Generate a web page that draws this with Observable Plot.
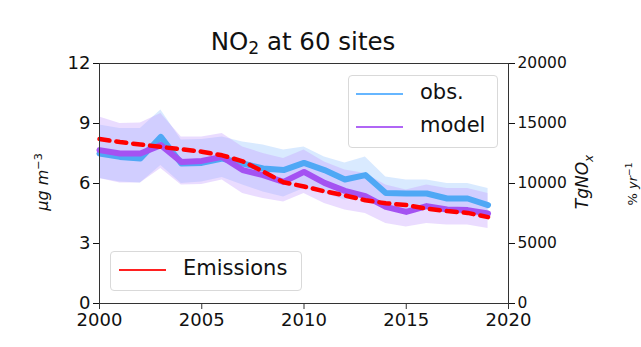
<!DOCTYPE html>
<html>
<head>
<meta charset="utf-8">
<script src="https://cdn.jsdelivr.net/npm/d3@7"></script>
<script src="https://cdn.jsdelivr.net/npm/@observablehq/plot@0.6"></script>
<style>
  html, body { margin: 0; padding: 0; background: #fff; }
  #wrap { position: relative; width: 641px; height: 347px; font-family: "DejaVu Sans", sans-serif; color: #111; }
  #wrap svg { position: absolute; left: 0; top: 0; }
  .ov { position: absolute; white-space: nowrap; }
  .legend { position: absolute; background: rgba(255,255,255,0.85); border: 1px solid #d9d9d9; border-radius: 4px; box-sizing: border-box; }
  .lg-row { position: absolute; font-size: 21px; line-height: 21px; }
  .lg-line { position: absolute; height: 2px; }
</style>
</head>
<body>
<div id="wrap"></div>
<script>
const years = [2000,2001,2002,2003,2004,2005,2006,2007,2008,2009,2010,2011,2012,2013,2014,2015,2016,2017,2018,2019];
const obsMean = [7.5,7.33,7.25,8.33,7.0,7.03,7.25,7.0,6.75,6.67,7.03,6.67,6.2,6.42,5.53,5.5,5.5,5.25,5.25,4.92];
const obsHi   = [8.92,8.75,8.75,9.67,8.17,8.2,8.33,8.08,7.92,7.67,7.83,7.33,7.03,7.33,6.33,6.17,6.17,6.0,6.0,5.75];
const obsLo   = [6.25,6.08,6.03,6.9,6.0,6.08,6.3,5.92,5.58,5.33,5.75,5.5,5.17,5.33,4.75,4.5,4.67,4.5,4.42,4.25];
const modelMean = [7.67,7.5,7.5,7.92,7.08,7.13,7.33,6.67,6.42,6.08,6.58,6.03,5.63,5.37,4.83,4.58,4.87,4.7,4.67,4.5];
const modelHi   = [9.33,9.0,9.03,9.5,8.33,8.33,8.5,7.83,7.5,7.25,7.67,7.08,6.67,6.5,5.92,5.67,5.92,5.75,5.75,5.5];
const modelLo   = [6.25,6.03,6.03,6.75,5.92,5.95,6.17,5.5,5.25,5.08,5.5,5.0,4.67,4.5,4.0,3.83,4.0,3.92,3.92,3.75];
const emissions = [13700,13450,13250,13050,12850,12650,12350,11850,11000,10100,9750,9350,9000,8600,8350,8200,7900,7700,7550,7200];
const xTicks = [2000,2005,2010,2015,2020];
const yTicks = [0,3,6,9,12];
const emisTicks = [0,5000,10000,15000,20000];
const yMax = 12, emisMax = 20000;

const data = years.map((year, i) => ({
  year, obsMean: obsMean[i], obsHi: obsHi[i], obsLo: obsLo[i],
  modelMean: modelMean[i], modelHi: modelHi[i], modelLo: modelLo[i],
  emis: emissions[i]
}));
const toLeft = v => v * yMax / emisMax;

const chart = Plot.plot({
  width: 641, height: 347,
  marginLeft: 99, marginRight: 133, marginTop: 63, marginBottom: 44,
  style: { fontFamily: "DejaVu Sans, sans-serif", fontSize: "16px", color: "#111", background: "transparent" },
  x: { domain: [2000, 2020] },
  y: { domain: [0, 12] },
  marks: [
    Plot.areaY(data, { x: "year", y1: "obsLo", y2: "obsHi", fill: "#9fcaff", fillOpacity: 0.4 }),
    Plot.areaY(data, { x: "year", y1: "modelLo", y2: "modelHi", fill: "#c49cff", fillOpacity: 0.35 }),
    Plot.lineY(data, { x: "year", y: "obsMean", stroke: "#4fa8f5", strokeWidth: 6 }),
    Plot.lineY(data, { x: "year", y: "modelMean", stroke: "#a452f2", strokeWidth: 6 }),
    Plot.lineY(data, { x: "year", y: d => toLeft(d.emis), stroke: "#ff0000", strokeWidth: 4.5, strokeDasharray: "10,7" }),
    Plot.frame({ stroke: "#333", strokeWidth: 1 }),
    Plot.axisX({ ticks: xTicks, tickFormat: d => String(d), tickSize: 6, tickPadding: 4, fontSize: 18, label: null, stroke: "#333" }),
    Plot.axisY({ ticks: yTicks, tickFormat: d => String(d), tickSize: 6, tickPadding: 3, fontSize: 18, label: null, anchor: "left" }),
    Plot.axisY({ anchor: "right", ticks: emisTicks.map(toLeft), tickFormat: (d, i) => String(emisTicks[i]), tickSize: 6, tickPadding: 3, fontSize: 15.5, label: null })
  ]
});

const wrap = document.getElementById("wrap");
wrap.appendChild(chart);

function ov(html, style) {
  const d = document.createElement("div");
  d.className = "ov";
  d.innerHTML = html;
  Object.assign(d.style, style);
  wrap.appendChild(d);
  return d;
}
// title
ov('NO<sub style="font-size:0.7em;vertical-align:-0.25em;">2</sub> at 60 sites', { left: "0px", width: "606px", textAlign: "center", top: "27px", fontSize: "24.5px", lineHeight: "30px" });
// left y label
ov('<i>μg m</i><sup style="font-size:0.7em;">−3</sup>', { left: "42px", top: "182px", fontSize: "16px", transform: "translate(-50%,-50%) rotate(-90deg)" });
// right labels
ov('<i>TgNO<sub style="font-size:0.7em;">x</sub></i>', { left: "584px", top: "182px", fontSize: "17px", transform: "translate(-50%,-50%) rotate(-90deg)" });
ov('% <i>yr</i><sup style="font-size:0.7em;">−1</sup>', { left: "632px", top: "184px", fontSize: "13px", transform: "translate(-50%,-50%) rotate(-90deg)" });

// legends
function legend(box, rows) {
  const b = document.createElement("div");
  b.className = "legend";
  Object.assign(b.style, box);
  wrap.appendChild(b);
  rows.forEach(r => {
    const l = document.createElement("div");
    l.className = "lg-line";
    Object.assign(l.style, { left: r.lx + "px", top: r.ly + "px", width: "47px", background: r.color });
    b.appendChild(l);
    const t = document.createElement("div");
    t.className = "lg-row";
    t.textContent = r.label;
    Object.assign(t.style, { left: r.tx + "px", top: (r.ly - 11) + "px" });
    b.appendChild(t);
  });
}
legend({ left: "348px", top: "75px", width: "150px", height: "73px" }, [
  { label: "obs.", color: "#66b6ff", lx: 7, ly: 17, tx: 71 },
  { label: "model", color: "#b066f5", lx: 7, ly: 50, tx: 71 }
]);
legend({ left: "110px", top: "251px", width: "192px", height: "40px" }, [
  { label: "Emissions", color: "#ff2020", lx: 8, ly: 17, tx: 72 }
]);
</script>
</body>
</html>
